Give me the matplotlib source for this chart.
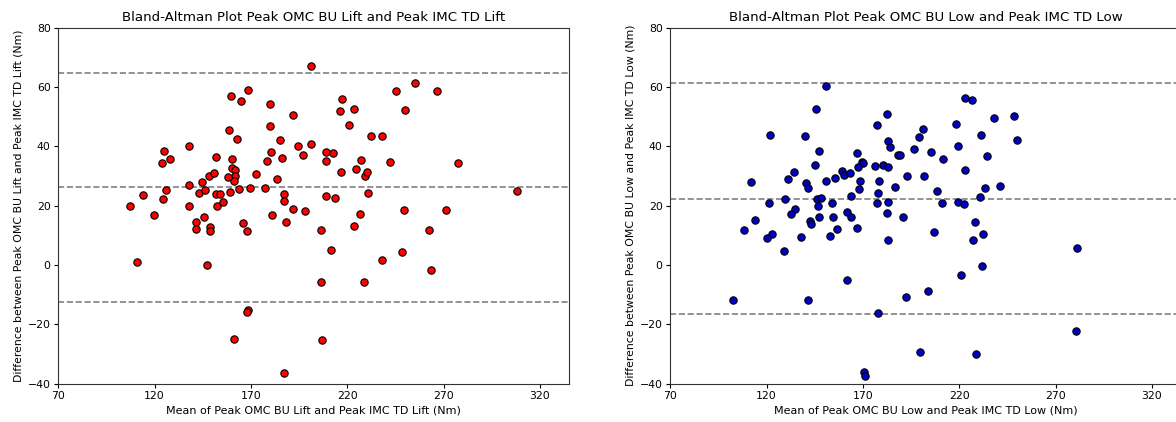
import matplotlib
matplotlib.use("Agg")
import matplotlib.pyplot as plt

# Peak lift: mean of the two methods (Nm) and their difference (Nm)
lift_mean = [107.4, 110.7, 114.2, 119.6, 123.7, 124.8, 127.9, 124.4, 125.8, 137.8,
             137.9, 137.9, 141.3, 141.3, 143.3, 144.5, 145.7, 146.1, 147.1, 148.0,
             148.7, 148.8, 150.9, 152.0, 152.0, 153.8, 152.5, 155.3, 158.4, 159.6,
             160.4, 160.4, 161.7, 161.6, 161.3, 157.9, 159.2, 162.7, 163.8, 165.0,
             168.4, 165.8, 168.1, 161.3, 168.3, 168.1, 169.6, 172.6, 177.1, 179.7,
             180.0, 180.6, 178.3, 183.5, 180.9, 185.2, 186.4, 187.3, 187.3, 188.3,
             191.6, 191.8, 194.2, 187.3, 197.2, 198.0, 201.0, 201.4, 206.4, 206.5,
             206.7, 209.1, 212.4, 209.0, 209.0, 213.9, 211.8, 216.6, 217.3, 216.5,
             223.6, 221.1, 224.4, 223.6, 226.5, 227.3, 228.7, 229.0, 230.3, 230.7,
             232.4, 238.2, 238.2, 242.0, 245.4, 248.7, 249.5, 250.0, 255.4, 262.7,
             263.3, 266.7, 271.4, 277.5, 308.2]
lift_diff = [19.8, 0.9, 23.7, 16.7, 34.3, 38.4, 35.8, 22.4, 25.2, 40.2,
             26.9, 19.8, 14.4, 12.2, 24.2, 28.1, 16.2, 25.2, -0.1, 30.1,
             12.8, 11.5, 30.9, 36.4, 23.8, 23.8, 19.8, 21.4, 45.5, 57.0,
             35.6, 32.7, 31.9, 30.1, 28.4, 29.7, 24.6, 42.6, 25.5, 55.4,
             59.0, 14.3, 11.5, -24.9, -15.2, -15.8, 25.8, 30.7, 25.8, 54.4,
             46.8, 38.0, 34.9, 28.9, 17.0, 42.1, 36.2, 23.9, 21.6, 14.5,
             50.5, 19.0, 40.1, -36.3, 37.0, 18.3, 67.1, 40.7, 11.7, -5.7,
             -25.2, 38.0, 37.7, 35.1, 23.4, 22.6, 5.0, 31.2, 55.9, 52.0,
             52.7, 47.1, 32.3, 13.0, 17.2, 35.4, -5.7, 29.9, 31.5, 24.4,
             43.4, 43.4, 1.6, 34.6, 58.7, 4.4, 18.5, 52.2, 61.3, 11.9,
             -1.8, 58.7, 18.5, 34.3, 24.9]

# Peak low: mean of the two methods (Nm) and their difference (Nm)
low_mean = [151.0, 145.5, 121.7, 139.7, 177.3, 182.6, 182.8, 184.3, 147.2, 166.7,
            145.1, 169.3, 170.2, 176.2, 180.6, 183.2, 112.1, 134.3, 130.9, 140.4,
            141.6, 151.0, 155.5, 159.1, 160.4, 163.1, 167.6, 168.4, 178.1, 168.1,
            177.8, 121.2, 129.7, 146.0, 148.5, 163.9, 154.2, 177.3, 182.9, 134.7,
            132.9, 146.6, 161.6, 147.2, 154.3, 163.6, 182.7, 114.1, 142.5, 142.9,
            166.7, 156.4, 108.5, 122.6, 120.0, 137.8, 153.1, 183.0, 128.8, 161.5,
            102.8, 141.3, 177.6, 170.5, 170.9, 190.8, 211.1, 219.3, 222.3, 228.1,
            206.8, 232.3, 227.3, 281.1, 231.9, 221.0, 204.0, 192.3, 280.7, 199.7,
            228.8, 222.8, 226.6, 238.1, 248.7, 218.3, 201.4, 199.3, 231.1, 249.8,
            196.4, 205.2, 219.4, 188.2, 189.2, 211.4, 234.5, 193.1, 201.8, 223.1,
            186.7, 208.5, 233.2, 241.2, 230.6]
low_diff = [60.3, 52.5, 43.9, 43.4, 47.1, 51.0, 41.9, 39.8, 38.4, 37.7,
            33.7, 34.8, 34.5, 33.5, 33.8, 33.2, 28.1, 31.5, 29.1, 27.5,
            26.0, 28.3, 29.5, 31.8, 30.3, 31.1, 33.0, 28.3, 28.3, 25.5,
            24.2, 21.0, 22.4, 22.2, 22.7, 23.2, 21.0, 20.8, 21.2, 19.0,
            17.1, 19.9, 18.0, 16.3, 16.1, 16.1, 17.6, 15.1, 14.9, 13.9,
            12.5, 12.2, 11.7, 10.3, 9.2, 9.4, 9.9, 8.3, 4.7, -5.2,
            -11.9, -11.9, -16.0, -36.0, -37.3, 16.2, 20.8, 21.1, 20.6, 14.5,
            11.0, 10.4, 8.3, 5.7, -0.4, -3.3, -8.8, -10.7, -22.2, -29.3,
            -30.1, 56.4, 55.6, 49.6, 50.2, 47.4, 45.7, 43.1, 43.9, 42.1,
            39.2, 38.2, 40.0, 37.2, 37.2, 35.9, 36.6, 29.9, 30.1, 32.0,
            26.2, 24.9, 25.8, 26.8, 22.9]

# Bias and limits of agreement (lower, mean, upper)
lift_lines = [-12.3, 26.2, 64.7]
low_lines = [-16.4, 22.4, 61.2]

x_ticks = [70, 120, 170, 220, 270, 320]
y_ticks = [-40, -20, 0, 20, 40, 60, 80]

panels = [
    dict(x=lift_mean, y=lift_diff, lines=lift_lines, color="#ff0000",
         title="Bland-Altman Plot Peak OMC BU Lift and Peak IMC TD Lift",
         xlabel="Mean of Peak OMC BU Lift and Peak IMC TD Lift (Nm)",
         ylabel="Difference between Peak OMC BU Lift and Peak IMC TD Lift (Nm)",
         rect=[58.3 / 1176, 1 - 383.7 / 422, 510.4 / 1176, 356.0 / 422]),
    dict(x=low_mean, y=low_diff, lines=low_lines, color="#0000c4",
         title="Bland-Altman Plot Peak OMC BU Low and Peak IMC TD Low",
         xlabel="Mean of Peak OMC BU Low and Peak IMC TD Low (Nm)",
         ylabel="Difference between Peak OMC BU Low and Peak IMC TD Low (Nm)",
         rect=[670.3 / 1176, 1 - 383.7 / 422, 510.4 / 1176, 356.0 / 422]),
]

fig = plt.figure(figsize=(11.76, 4.22), dpi=100)
for p in panels:
    ax = fig.add_axes(p["rect"])
    ax.scatter(p["x"], p["y"], s=28, c=p["color"], edgecolors="black",
               linewidths=0.8, zorder=3)
    for v in p["lines"]:
        ax.axhline(v, color="gray", linestyle="--", linewidth=1.2, zorder=2)
    ax.set_xlim(70, 335)
    ax.set_ylim(-40, 80)
    ax.set_xticks(x_ticks)
    ax.set_yticks(y_ticks)
    ax.tick_params(labelsize=7.8, length=3, width=0.8, pad=2.5)
    ax.set_title(p["title"], fontsize=9.6, pad=5)
    ax.set_xlabel(p["xlabel"], fontsize=8.0, labelpad=3)
    ax.set_ylabel(p["ylabel"], fontsize=7.8, labelpad=3)
    for sp in ax.spines.values():
        sp.set_linewidth(0.8)
        sp.set_color("#333333")

fig.savefig("out.png", dpi=100)
